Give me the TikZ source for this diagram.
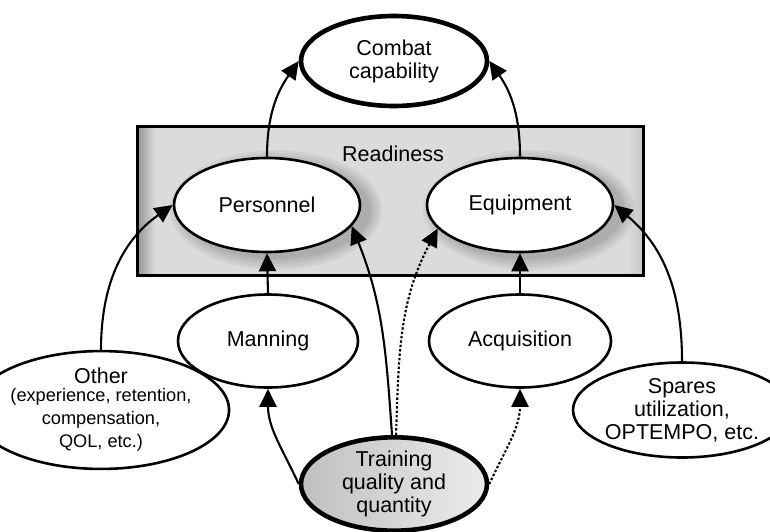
\documentclass[tikz,border=0pt]{standalone}
\usepackage{fontspec}
\setmainfont{Liberation Sans}
\usetikzlibrary{shapes.geometric,arrows.meta}
\newcommand{\smallsz}{\fontsize{18.2}{17.5}\selectfont}
\begin{document}
\begin{tikzpicture}[x=1pt,y=-1pt,
  ell/.style={ellipse, draw, line width=2.6pt, fill=white, inner sep=0pt, align=center,
    font=\fontsize{21.5}{23}\selectfont},
  thickell/.style={ell, line width=4.6pt},
  arr/.style={line width=2.1pt, -{Triangle[length=18pt,width=17pt]}},
  dotarr/.style={arr, dash pattern=on 2.4pt off 2pt},
  halo/.style={black, opacity=0.045}]
\useasboundingbox (0,0) rectangle (770,532);
% readiness box
\fill[gray!28] (137,126) rectangle (643,275);
\begin{scope}
  \clip (137,126) rectangle (643,275);
  \fill[left color=gray!85, right color=gray!28] (137,126) rectangle (155,275);
  \fill[left color=gray!28, right color=gray!45] (628,126) rectangle (643,275);
  \foreach \r in {14,11,8,5,3} {
    \fill[halo] (276,210) ellipse [x radius=92+\r, y radius=46+\r];
    \fill[halo] (529,210) ellipse [x radius=92+\r, y radius=46+\r];
  }
\end{scope}
\node (box) [draw, line width=3pt, minimum width=506pt, minimum height=149pt, inner sep=0pt] at (390,200.5) {};
\node (rdy) at (393,154) {\fontsize{21.5}{23}\selectfont Readiness};
% ellipses
\node (comb) [thickell, minimum width=186pt, minimum height=90pt] at (394,61) {Combat\\capability};
\node (pers) [ell, minimum width=186pt, minimum height=94pt] at (267,205) {Personnel};
\node (equi) [ell, minimum width=186pt, minimum height=94pt] at (520,205) {Equipment};
\node (mann) [ell, minimum width=180pt, minimum height=93pt] at (268,341) {Manning};
\node (acqu) [ell, minimum width=182pt, minimum height=93pt] at (520,341) {Acquisition};
\node (othr) [ell, minimum width=183pt, minimum height=95pt] at (101,410)
  {Other\\[-5pt]\smallsz (experience, retention,\\\smallsz compensation,\\\smallsz QOL, etc.)};
\node (spar) [ell, minimum width=174pt, minimum height=95pt] at (682,410) {Spares\\utilization,\\OPTEMPO, etc.};
\node (trai) [thickell, shade, left color=gray!50, right color=gray!15, minimum width=186pt, minimum height=92pt] at (394,484)
  {Training\\quality and\\quantity};
% connectors
\draw[arr] (pers.north) to[out=90, in=235] (comb.west);
\draw[arr] (equi.north) to[out=90, in=-55] (comb.east);
\draw[arr] (mann.north) -- (pers.south);
\draw[arr] (acqu.north) -- (equi.south);
\draw[arr] (othr.north) to[out=90, in=215] (pers.west);
\draw[arr] (spar.north) to[out=90, in=-40] (equi.east);
\draw[arr] (trai.west) to[out=115, in=-90] (mann.south);
\draw[dotarr] (trai.east) to[out=65, in=-90] (acqu.south);
\draw[arr] ([xshift=-2pt]trai.north) to[out=94, in=-68] (pers.-14);
\draw[dotarr] ([xshift=2pt]trai.north) to[out=88, in=242] (equi.196);
\end{tikzpicture}
\end{document}
